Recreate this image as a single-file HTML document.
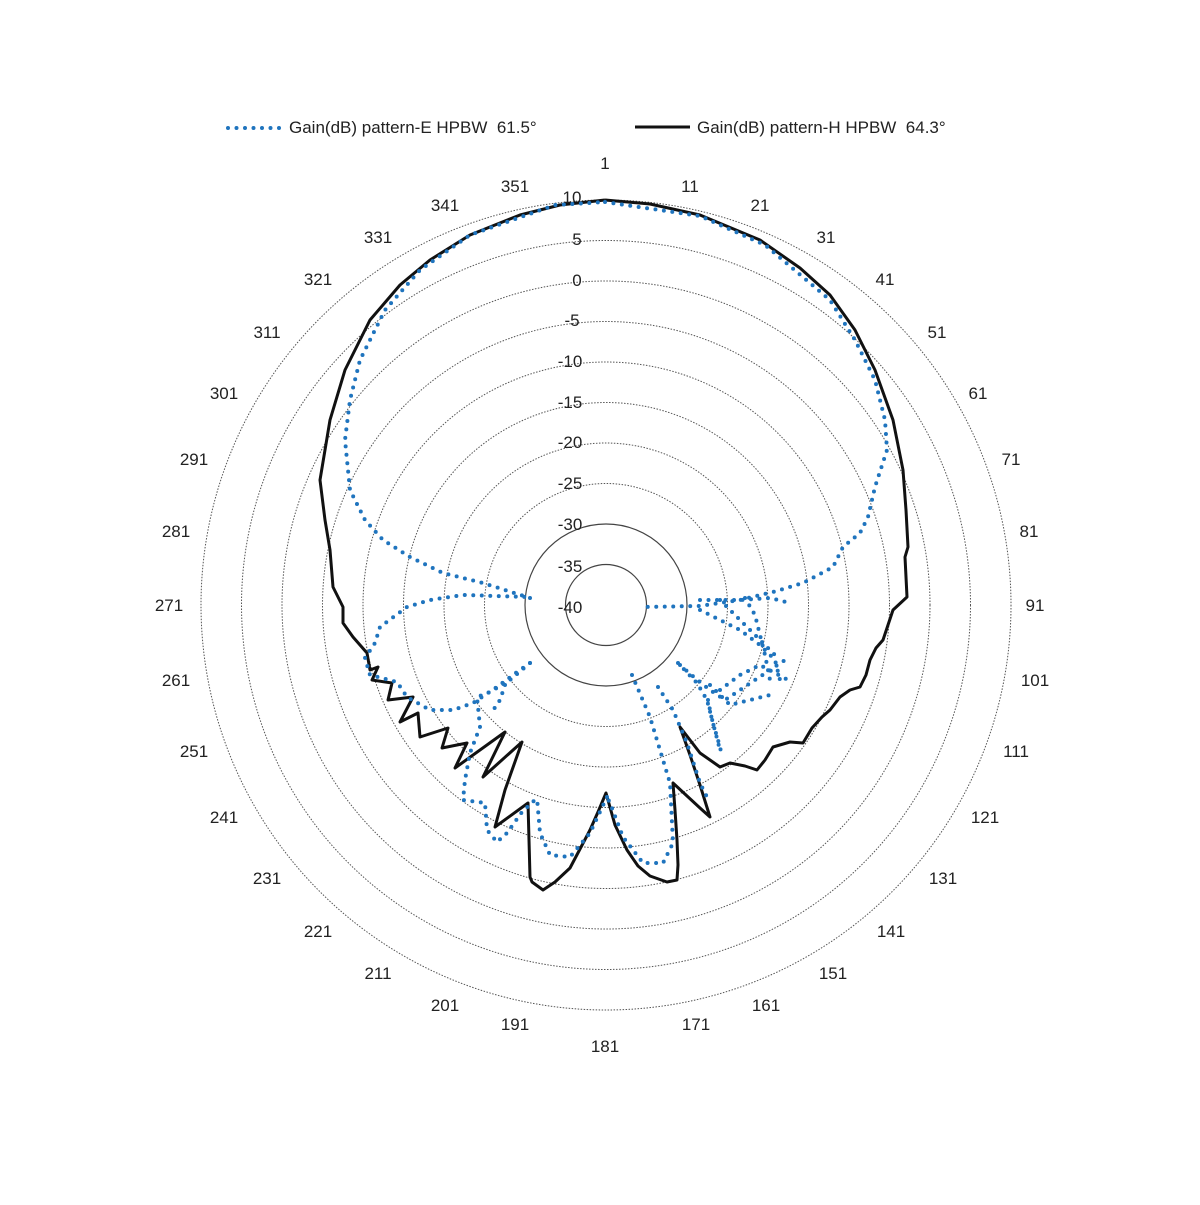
<!DOCTYPE html>
<html><head><meta charset="utf-8"><style>
html,body{margin:0;padding:0;background:#fff}
svg text{font-family:"Liberation Sans",sans-serif;font-size:17px;fill:#222}
</style></head><body>
<svg width="1200" height="1200" viewBox="0 0 1200 1200" xmlns="http://www.w3.org/2000/svg">
<rect width="1200" height="1200" fill="#fff"/>
<g fill="none" stroke="#555" stroke-width="1" stroke-dasharray="1.5 1.5">
<circle cx="606" cy="605" r="405"/>
<circle cx="606" cy="605" r="364.5"/>
<circle cx="606" cy="605" r="324"/>
<circle cx="606" cy="605" r="283.5"/>
<circle cx="606" cy="605" r="243"/>
<circle cx="606" cy="605" r="202.5"/>
<circle cx="606" cy="605" r="162"/>
<circle cx="606" cy="605" r="121.5"/>
</g>
<g fill="none" stroke="#444" stroke-width="1.2">
<circle cx="606" cy="605" r="81"/>
<circle cx="606" cy="605" r="40.5"/>
</g>
<g text-anchor="middle">
<text x="572" y="203">10</text><text x="577" y="245">5</text><text x="577" y="286">0</text>
<text x="572" y="326">-5</text><text x="570" y="367">-10</text><text x="570" y="408">-15</text>
<text x="570" y="448">-20</text><text x="570" y="489">-25</text><text x="570" y="530">-30</text>
<text x="570" y="572">-35</text><text x="570" y="613">-40</text>
</g>
<g text-anchor="middle">
<text x="605" y="169">1</text><text x="690" y="192">11</text><text x="760" y="211">21</text>
<text x="826" y="243">31</text><text x="885" y="285">41</text><text x="937" y="338">51</text>
<text x="978" y="399">61</text><text x="1011" y="465">71</text><text x="1029" y="537">81</text>
<text x="1035" y="611">91</text><text x="1035" y="686">101</text><text x="1016" y="757">111</text>
<text x="985" y="823">121</text><text x="943" y="884">131</text><text x="891" y="937">141</text>
<text x="833" y="979">151</text><text x="766" y="1011">161</text><text x="696" y="1030">171</text>
<text x="605" y="1052">181</text><text x="515" y="1030">191</text><text x="445" y="1011">201</text>
<text x="378" y="979">211</text><text x="318" y="937">221</text><text x="267" y="884">231</text>
<text x="224" y="823">241</text><text x="194" y="757">251</text><text x="176" y="686">261</text>
<text x="169" y="611">271</text><text x="176" y="537">281</text><text x="194" y="465">291</text>
<text x="224" y="399">301</text><text x="267" y="338">311</text><text x="318" y="285">321</text>
<text x="378" y="243">331</text><text x="445" y="211">341</text><text x="515" y="192">351</text>
</g>
<polyline fill="none" stroke="#111" stroke-width="3" stroke-linejoin="round" points="605,200 650,204 700,215 760,240 800,268 830,295 855,330 875,370 893,420 903,470 906,510 908,547 905,557 907,597 893,610 888,625 883,640 876,648 870,660 866,675 860,687 850,690 840,697 830,710 822,717 812,728 803,743 790,742 773,747 765,760 757,770 745,766 730,763 720,767 700,753 680,727 690,755 700,785 710,817 700,808 673,783 675,810 677,840 678,865 677,880 667,882 650,876 638,866 627,850 615,825 606,793 598,812 590,830 570,868 555,882 543,890 532,882 530,877 529,840 528,803 495,827 505,790 522,742 483,777 505,732 455,768 467,743 442,748 448,728 420,737 418,713 400,722 413,697 388,700 392,683 372,680 378,667 370,670 367,653 353,637 343,623 343,607 333,587 330,550 325,520 320,480 330,420 345,370 370,320 400,285 430,260 470,235 520,215 560,205 605,200"/>
<g fill="none" stroke="#1f74be" stroke-width="4" stroke-linecap="round" stroke-dasharray="0 8.5">
<polyline points="605,202 700,216 765,245 830,300 855,340 875,380 885,420 887,450 875,487 868,517 860,533 843,547 833,567 803,583 773,592 740,600 700,606 640,607"/>
<polyline points="700,600 740,600 770,598 790,603"/>
<polyline points="700,610 720,620 740,630 760,645 775,660 780,680"/>
<polyline points="720,600 735,615 750,630 765,645 780,660"/>
<polyline points="745,598 755,615 760,635 765,655 770,680"/>
<polyline points="680,665 695,678 710,690 725,700 740,690 755,680 770,670 785,660"/>
<polyline points="720,690 740,675 760,665 788,680"/>
<polyline points="710,685 730,705 750,700 770,695"/>
<polyline points="708,700 712,720 718,740 722,755"/>
<polyline points="632,675 650,717 663,760 670,783 673,843 663,863 643,863 623,837 610,803 607,797"/>
<polyline points="658,687 673,710 687,743 700,783 707,797"/>
<polyline points="678,663 697,683 707,700 720,750"/>
<polyline points="607,797 590,833 570,857 550,855 540,833 537,798"/>
<polyline points="530,663 517,672 497,687 473,703 453,710 430,710 407,697 397,682 370,675 365,658 375,643 380,627 407,607 430,600 463,595 530,597"/>
<polyline points="530,663 510,680 490,692 477,697 480,727 470,753 465,780 463,800 485,803 487,830 497,842 507,833 522,812 537,798"/>
<polyline points="505,685 500,700 490,715"/>
<polyline points="530,598 483,583 443,573 410,557 383,540 365,520 350,490 345,440 350,400 360,360 385,310 420,270 470,235 555,205 605,202"/>
</g>
<line x1="228" y1="128" x2="280" y2="128" stroke="#1f74be" stroke-width="4" stroke-linecap="round" stroke-dasharray="0 8.5"/>
<line x1="635" y1="127" x2="690" y2="127" stroke="#111" stroke-width="3"/>
<text x="289" y="133" xml:space="preserve">Gain(dB) pattern-E HPBW  61.5°</text>
<text x="697" y="133" xml:space="preserve">Gain(dB) pattern-H HPBW  64.3°</text>
</svg>
</body></html>
